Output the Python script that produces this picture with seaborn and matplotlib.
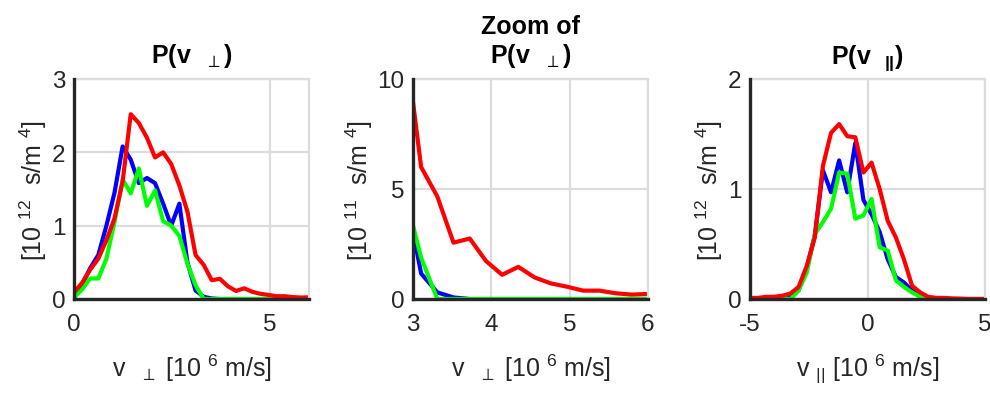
import numpy as np
import pandas as pd
import matplotlib
matplotlib.use('Agg')
import matplotlib.pyplot as plt
import seaborn as sns

# velocity grids [10^6 m/s]
v_perp = np.linspace(0, 6, 30)
v_par = np.linspace(-5, 5, 30)

# P(v_perp) [10^12 s/m^4]
perp_blue = [0.02, 0.20, 0.42, 0.60, 1.00, 1.45, 2.08, 1.90, 1.58, 1.65,
             1.58, 1.30, 1.00, 1.30, 0.50, 0.116, 0.03, 0.007, 0, 0,
             0, 0, 0, 0, 0, 0, 0, 0, 0, 0]
perp_green = [0.02, 0.13, 0.28, 0.28, 0.55, 1.05, 1.63, 1.44, 1.78, 1.27,
              1.48, 1.06, 1.00, 0.86, 0.48, 0.188, 0, 0, 0, 0,
              0, 0, 0, 0, 0, 0, 0, 0, 0, 0]
perp_red = [0.09, 0.22, 0.40, 0.55, 0.80, 1.10, 1.60, 2.52, 2.40, 2.20,
            1.93, 2.00, 1.84, 1.55, 1.19, 0.60, 0.466, 0.256, 0.275, 0.173,
            0.11, 0.146, 0.098, 0.071, 0.056, 0.038, 0.038, 0.026, 0.02, 0.023]

# P(v_par) [10^12 s/m^4]
par_blue = [0, 0, 0, 0, 0, 0.01, 0.08, 0.28, 0.58, 1.17,
            0.97, 1.26, 0.97, 1.42, 0.90, 0.77, 0.61, 0.36, 0.20, 0.15,
            0.075, 0.03, 0.01, 0, 0, 0, 0, 0, 0, 0]
par_green = [0, 0, 0, 0, 0, 0, 0.08, 0.24, 0.59, 0.70,
             0.82, 1.15, 1.14, 0.73, 0.76, 0.91, 0.47, 0.44, 0.17, 0.11,
             0.06, 0.02, 0, 0, 0, 0, 0, 0, 0, 0]
par_red = [0.01, 0.01, 0.02, 0.02, 0.03, 0.05, 0.11, 0.30, 0.56, 1.21,
           1.51, 1.59, 1.48, 1.47, 1.15, 1.24, 1.00, 0.71, 0.56, 0.36,
           0.12, 0.06, 0.02, 0.01, 0.01, 0.005, 0.003, 0, 0, 0]

colors = {'blue': '#0000ff', 'green': '#00ff00', 'red': '#ff0000'}

sns.set_theme(style='white')
plt.rcParams['font.family'] = ['Liberation Sans', 'DejaVu Sans']
plt.rcParams['mathtext.fontset'] = 'custom'
plt.rcParams['mathtext.rm'] = 'Liberation Sans'
plt.rcParams['mathtext.default'] = 'regular'
plt.rcParams['axes.unicode_minus'] = False

ink = '#262626'
gridc = '#dcdcdc'

fig = plt.figure(figsize=(9.9, 4.02), dpi=100)
lefts = [74 / 990, 413 / 990, 750 / 990]
axes = [fig.add_axes([l, 102 / 402, 235 / 990, 220 / 402]) for l in lefts]

def draw(ax, x, series, scale=1.0):
    for name, y in series:
        sns.lineplot(x=x, y=np.array(y) * scale, ax=ax, color=colors[name],
                     lw=3.0, legend=False)

draw(axes[0], v_perp, [('blue', perp_blue), ('green', perp_green), ('red', perp_red)])
draw(axes[1], v_perp, [('blue', perp_blue), ('green', perp_green), ('red', perp_red)], 10)
draw(axes[2], v_par, [('blue', par_blue), ('green', par_green), ('red', par_red)])

cfg = [
    dict(xlim=(0, 6), ylim=(0, 3), xt=[0, 5], yt=[0, 1, 2, 3],
         title='P(v  $_{\\perp}$)', yl='[10 $^{12}$  s/m $^{4}$]',
         xl='v  $_{\\perp}$ [10 $^{6}$ m/s]'),
    dict(xlim=(3, 6), ylim=(0, 10), xt=[3, 4, 5, 6], yt=[0, 5, 10],
         title='Zoom of\nP(v  $_{\\perp}$)', yl='[10 $^{11}$  s/m $^{4}$]',
         xl='v  $_{\\perp}$ [10 $^{6}$ m/s]'),
    dict(xlim=(-5, 5), ylim=(0, 2), xt=[-5, 0, 5], yt=[0, 1, 2],
         title='P(v  $_{||}$)', yl='[10 $^{12}$  s/m $^{4}$]',
         xl='v $_{||}$ [10 $^{6}$ m/s]'),
]

for ax, c in zip(axes, cfg):
    ax.set_xlim(*c['xlim'])
    ax.set_ylim(*c['ylim'])
    ax.set_xticks(c['xt'])
    ax.set_yticks(c['yt'])
    ax.grid(True, color=gridc, lw=1.6)
    ax.set_axisbelow(True)
    for s in ['top', 'right']:
        ax.spines[s].set_color(gridc)
        ax.spines[s].set_linewidth(1.6)
    for s in ['left', 'bottom']:
        ax.spines[s].set_color(ink)
        ax.spines[s].set_linewidth(2.4)
        ax.spines[s].set_zorder(5)
    ax.tick_params(axis='both', direction='in', length=4, width=2.4, color=ink,
                   labelcolor=ink, labelsize=17.5)
    ax.tick_params(axis='x', pad=10)
    ax.tick_params(axis='y', pad=6)
    ax.set_title(c['title'], fontsize=18, fontweight='bold', color='black',
                 pad=12, linespacing=1.15)
    ax.set_ylabel(c['yl'], fontsize=18, color=ink, labelpad=2)
    ax.set_xlabel(c['xl'], fontsize=18, color=ink, labelpad=12)

fig.savefig('out.png', dpi=100)
